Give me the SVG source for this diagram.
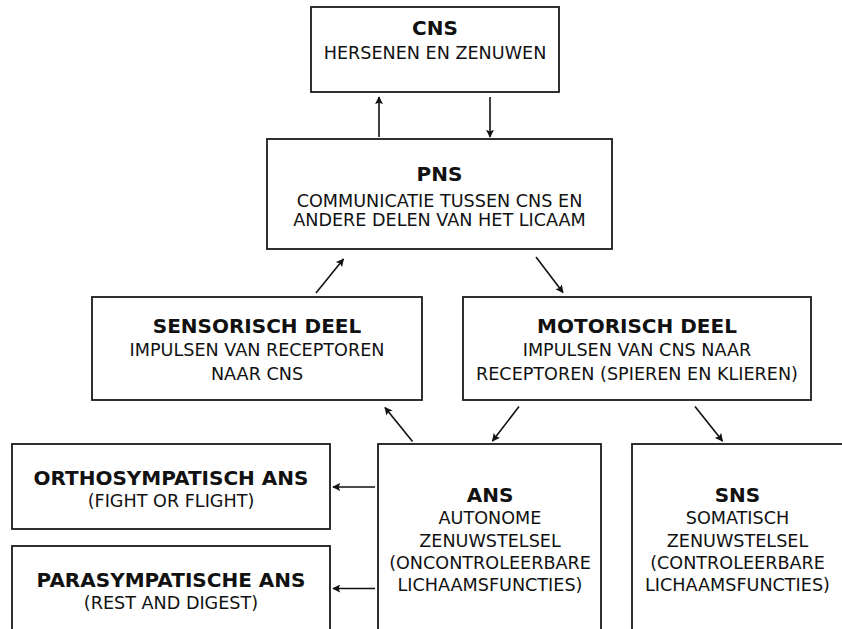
<svg xmlns="http://www.w3.org/2000/svg" width="842" height="629" viewBox="0 0 842 629">
<defs>
<marker id="ah" viewBox="0 0 10 10" refX="9" refY="5" markerWidth="8" markerHeight="8" markerUnits="userSpaceOnUse" orient="auto">
<path d="M0,0 L10,5 L0,10 L2,5 Z" fill="#111"/>
</marker>
<style>
.box{fill:#fff;stroke:#1a1a1a;stroke-width:1.8}
.t{font-family:"DejaVu Sans",sans-serif;font-weight:bold;font-size:20px;fill:#111;text-anchor:middle}
.s{font-family:"DejaVu Sans",sans-serif;font-size:17.6px;fill:#111;text-anchor:middle}
.c{stroke:#111;stroke-width:1.6;fill:none;marker-end:url(#ah)}
</style>
</defs>
<rect width="842" height="629" fill="#fff"/>
<g id="cns">
<rect class="box" x="311" y="7" width="248" height="85"/>
<text class="t" x="435" y="35">CNS</text>
<text class="s" x="435" y="59">HERSENEN EN ZENUWEN</text>
</g>
<g id="pns">
<rect class="box" x="267" y="139" width="345" height="110"/>
<text class="t" x="439.5" y="181">PNS</text>
<text class="s" x="439.5" y="206.5">COMMUNICATIE TUSSEN CNS EN</text>
<text class="s" x="439.5" y="226">ANDERE DELEN VAN HET LICAAM</text>
</g>
<g id="sensorisch">
<rect class="box" x="92" y="297" width="330" height="103"/>
<text class="t" x="257" y="333">SENSORISCH DEEL</text>
<text class="s" x="257" y="356">IMPULSEN VAN RECEPTOREN</text>
<text class="s" x="257" y="380">NAAR CNS</text>
</g>
<g id="motorisch">
<rect class="box" x="463" y="297" width="348" height="103"/>
<text class="t" x="637" y="333">MOTORISCH DEEL</text>
<text class="s" x="637" y="356">IMPULSEN VAN CNS NAAR</text>
<text class="s" x="637" y="380">RECEPTOREN (SPIEREN EN KLIEREN)</text>
</g>
<g id="ortho">
<rect class="box" x="12" y="444" width="318" height="85"/>
<text class="t" x="171" y="485">ORTHOSYMPATISCH ANS</text>
<text class="s" x="171" y="507">(FIGHT OR FLIGHT)</text>
</g>
<g id="para">
<rect class="box" x="12" y="546" width="318" height="100"/>
<text class="t" x="171" y="586.5">PARASYMPATISCHE ANS</text>
<text class="s" x="171" y="609">(REST AND DIGEST)</text>
</g>
<g id="ans">
<rect class="box" x="378" y="444" width="223" height="200"/>
<text class="t" x="490" y="502">ANS</text>
<text class="s" x="490" y="524">AUTONOME</text>
<text class="s" x="490" y="547">ZENUWSTELSEL</text>
<text class="s" x="490" y="569">(ONCONTROLEERBARE</text>
<text class="s" x="490" y="591">LICHAAMSFUNCTIES)</text>
</g>
<g id="sns">
<rect class="box" x="632" y="444" width="223" height="200"/>
<text class="t" x="737.5" y="502">SNS</text>
<text class="s" x="737.5" y="524">SOMATISCH</text>
<text class="s" x="737.5" y="547">ZENUWSTELSEL</text>
<text class="s" x="737.5" y="569">(CONTROLEERBARE</text>
<text class="s" x="737.5" y="591">LICHAAMSFUNCTIES)</text>
</g>
<g id="connectors">
<line class="c" x1="379" y1="137" x2="379" y2="97"/>
<line class="c" x1="490" y1="97" x2="490" y2="137"/>
<line class="c" x1="316" y1="293" x2="343.5" y2="259"/>
<line class="c" x1="536" y1="257" x2="563" y2="292.5"/>
<line class="c" x1="412.5" y1="441.5" x2="385" y2="407.5"/>
<line class="c" x1="519" y1="406.5" x2="492.5" y2="441"/>
<line class="c" x1="695" y1="406.5" x2="722.5" y2="441"/>
<line class="c" x1="375" y1="487" x2="333" y2="487"/>
<line class="c" x1="375" y1="588.5" x2="333" y2="588.5"/>
</g>
</svg>
